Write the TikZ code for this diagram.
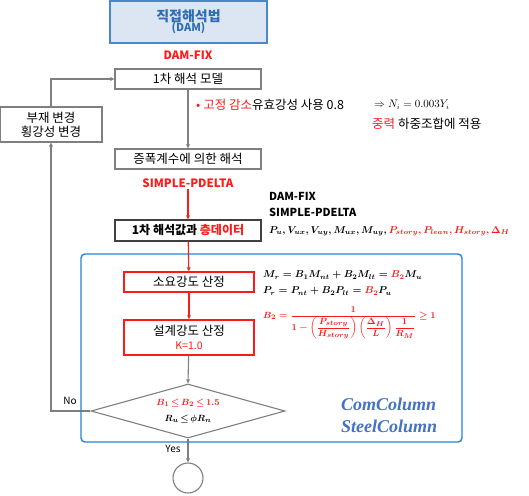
\documentclass[tikz,border=0pt]{standalone}
\usepackage{amsmath}
\usepackage{fontspec}
\setmainfont{Noto Sans CJK KR}
\newfontfamily\decofont{Liberation Serif}
\usetikzlibrary{shapes.geometric,arrows.meta}
\definecolor{gline}{HTML}{7F7F7F}
\definecolor{tfill}{HTML}{DCE6F2}
\definecolor{tborder}{HTML}{4A86C8}
\definecolor{ttext}{HTML}{2E6DB4}
\definecolor{frameblue}{HTML}{2383D6}
\definecolor{decoblue}{HTML}{4472C4}
\definecolor{myred}{HTML}{FF1A1A}
\tikzset{
  graybox/.style={draw=gline, line width=1.1pt, fill=white, minimum width=146pt, minimum height=20pt, inner sep=0pt, align=center, font=\fontsize{12.5}{14}\selectfont},
  blackbox/.style={draw=black!75, line width=1.2pt, fill=white, minimum width=146pt, minimum height=21pt, inner sep=0pt, align=center, font=\fontsize{12}{14}\selectfont\bfseries},
  redbox/.style={draw=myred, line width=1.4pt, fill=white, minimum width=130pt, inner sep=0pt, align=center, font=\fontsize{12.5}{14}\selectfont},
  redlbl/.style={text=myred, font=\fontsize{11.5}{13}\selectfont\bfseries, inner sep=1pt},
  blklbl/.style={text=black, font=\fontsize{11}{13}\selectfont\bfseries, inner sep=1pt, anchor=west},
  garrow/.style={draw=gline, line width=1.1pt, -{Triangle[length=4pt,width=3.5pt]}},
  rarrow/.style={draw=myred, line width=1.1pt, -{Triangle[length=4pt,width=3.5pt]}},
  note/.style={anchor=west, inner sep=1pt, font=\fontsize{12.5}{14}\selectfont},
  mathlbl/.style={anchor=west, inner sep=0pt, font=\fontsize{10.2}{12}\selectfont\boldmath},
  deco/.style={anchor=west, inner sep=0pt, text=decoblue, font=\decofont\fontsize{18}{20}\selectfont\bfseries\itshape},
}
\begin{document}
\begin{tikzpicture}[x=1pt,y=-1pt]
\useasboundingbox (0,0) rectangle (529,495);
% title
\node[draw=tborder, line width=1.4pt, fill=tfill, minimum width=157pt, minimum height=42pt, align=center, text=ttext, inner sep=0pt] (title) at (188.5,22)
  {{\fontsize{14}{16}\selectfont\bfseries 직접해석법}\\[-2pt]{\fontsize{11}{12}\selectfont\bfseries (DAM)}};
\node[redlbl] (damfix) at (188,55) {DAM-FIX};
\node[graybox] (m1) at (188,79) {1차 해석 모델};
\node[graybox, minimum width=102pt, minimum height=35pt] (chg) at (51,124.5) {부재 변경\\횡강성 변경};
\node[graybox] (amp) at (188,159) {증폭계수에 의한 해석};
\node[redlbl] (sp) at (188,183) {SIMPLE-PDELTA};
\node[blackbox] (data) at (188,230.5) {1차 해석값과 \textcolor{myred}{층데이터}};
\node[redbox, minimum height=20pt] (req) at (189,282) {소요강도 산정};
\node[redbox, minimum height=35pt] (des) at (189,337.5) {설계강도 산정\\{\color{myred}\fontsize{10.5}{12}\selectfont K=1.0}};
\node[diamond, draw=gline, line width=1.1pt, fill=white, minimum width=194pt, minimum height=54pt, inner sep=0pt, shape aspect=3.6] (dia) at (188,411) {};
\node[align=center, inner sep=0pt, font=\fontsize{9.5}{16}\selectfont\boldmath] (diatxt) at (188,411)
  {{\color{myred}$B_1\mskip3mu{\le}\mskip3mu B_2\mskip3mu{\le}\mskip3mu 1.5$}\\{$R_u\mskip3mu{\le}\mskip3mu\phi R_n$}};
\node[circle, draw=gline, line width=1.1pt, minimum size=30pt, inner sep=0pt] (end) at (188,478) {};
\node[inner sep=1pt, font=\fontsize{10}{11}\selectfont] (no) at (70,401) {No};
\node[inner sep=1pt, font=\fontsize{10}{11}\selectfont] (yes) at (173,449) {Yes};
% notes
\node[note] (n1) at (195,105) {\textcolor{myred}{• 고정 감소}유효강성 사용 0.8};
\node[note, font=\fontsize{10.5}{12}\selectfont] (n2) at (373,105) {$\Rightarrow N_i = 0.003Y_i$};
\node[note] (n3) at (371,124) {\textcolor{myred}{중력} 하중조합에 적용};
\node[blklbl] (dfx) at (268,196) {DAM-FIX};
\node[blklbl] (spx) at (268,212) {SIMPLE-PDELTA};
\node[mathlbl, font=\fontsize{9.9}{12}\selectfont\boldmath] (vars) at (269,231)
  {$P_u, V_{ux}, V_{uy}, M_{ux}, M_{uy}, {\color{myred}P_{story}, P_{lean}, H_{story}, \Delta_H}$};
\node[mathlbl, font=\fontsize{9.8}{12}\selectfont\boldmath] (eq1) at (263,275) {$M_r = B_1M_{nt} + B_2M_{lt} = {\color{myred}B_2}M_u$};
\node[mathlbl] (eq2) at (263,291) {$P_r = P_{nt} + B_2P_{lt} = {\color{myred}B_2}P_u$};
\node[mathlbl, text=myred, font=\fontsize{9.3}{11}\selectfont\boldmath] (eq3) at (263,323)
  {$B_2 = \dfrac{1}{1-\left(\dfrac{P_{story}}{H_{story}}\right)\left(\dfrac{\Delta_H}{L}\right)\dfrac{1}{R_M}} \ge 1$};
\node[deco] (cc) at (341,404) {ComColumn};
\node[deco] (sc) at (341,426) {SteelColumn};
% gray connectors (under the blue frame)
\draw[garrow] (chg.north) |- (m1.west);
\draw[garrow] (m1) -- (amp);
\draw[garrow] (des) -- (dia.north);
\draw[garrow] (dia.west) -| (chg.south);
\draw[garrow] (dia.south) -- (end.north);
% blue frame
\draw[frameblue, line width=1.4pt, rounded corners=4pt] (81,254) rectangle (462,442);
% red connectors (over the frame)
\draw[rarrow] (sp.south) -- (data.north);
\draw[rarrow] (data) -- (req);
\draw[rarrow] (req) -- (des);
\end{tikzpicture}
\end{document}
